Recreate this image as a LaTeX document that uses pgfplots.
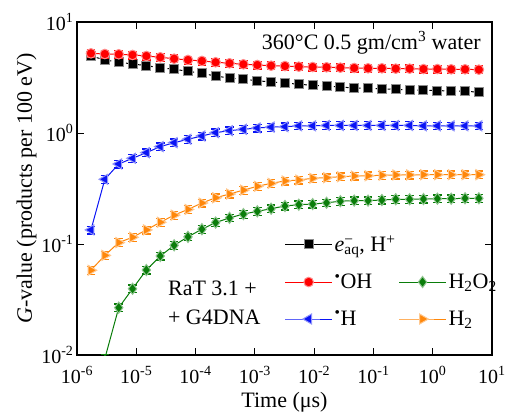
\documentclass[border=0pt]{standalone}
\usepackage{fontspec}
\setmainfont{Liberation Serif}
\usepackage{pgfplots}
\usepackage{pgfplotstable}
\pgfplotsset{compat=1.18}

\definecolor{cOH}{RGB}{255,0,0}
\definecolor{cH}{RGB}{10,20,245}
\definecolor{cHtwo}{RGB}{255,135,10}
\definecolor{cHHOO}{RGB}{10,125,10}

% G-values (molecules / 100 eV) versus time (microseconds)
\pgfplotstableread{
t        eaq   OH    H      Htwo   HHOO    err
1.72e-6  4.94  5.22  0.134  0.058  nan     0.08
2.95e-6  4.55  5.15  0.383  0.079  0.0093  0.08
5.06e-6  4.34  5.12  0.526  0.103  0.0267  0.08
8.65e-6  4.19  5.05  0.592  0.115  0.0395  0.08
1.48e-5  4.04  4.94  0.665  0.134  0.0583  0.08
2.54e-5  3.87  4.81  0.754  0.157  0.078   0.08
4.35e-5  3.75  4.67  0.818  0.182  0.0973  0.08
7.45e-5  3.60  4.55  0.878  0.205  0.116   0.08
1.28e-4  3.45  4.46  0.940  0.234  0.136   0.08
2.18e-4  3.26  4.34  1.007  0.261  0.156   0.08
3.74e-4  3.13  4.25  1.05   0.282  0.172   0.08
6.41e-4  3.05  4.16  1.08   0.306  0.186   0.08
1.10e-3  2.96  4.10  1.11   0.331  0.197   0.08
1.88e-3  2.88  4.04  1.13   0.352  0.208   0.08
3.22e-3  2.82  4.01  1.14   0.370  0.220   0.08
5.51e-3  2.75  3.96  1.16   0.377  0.226   0.08
9.44e-3  2.69  3.93  1.16   0.391  0.229   0.08
1.62e-2  2.64  3.91  1.17   0.396  0.235   0.08
2.77e-2  2.60  3.88  1.17   0.404  0.243   0.08
4.74e-2  2.54  3.85  1.17   0.410  0.246   0.08
8.12e-2  2.53  3.83  1.17   0.412  0.246   0.08
0.139    2.49  3.83  1.17   0.416  0.249   0.08
0.238    2.48  3.80  1.17   0.419  0.253   0.08
0.408    2.44  3.80  1.17   0.419  0.253   0.08
0.699    2.43  3.77  1.16   0.421  0.254   0.08
1.20     2.41  3.77  1.16   0.421  0.256   0.08
2.05     2.39  3.75  1.16   0.421  0.256   0.08
3.51     2.38  3.75  1.16   0.421  0.258   0.08
6.01     2.33  3.72  1.16   0.421  0.258   0.08
}\gvalues

\pgfplotsset{
  gseries/.style={
    line width=1bp,
    mark size=4.8bp,
    error bars/y dir=both,
    error bars/y explicit relative,
    error bars/error bar style={line width=1bp},
    error bars/error mark options={rotate=90, mark size=4.3bp, line width=1.2bp},
    legend image code/.code={
      \draw[mark repeat=2, mark phase=2]
        plot coordinates {(0bp,0bp) (23.5bp,0bp) (47bp,0bp)};
    },
  },
}

\begin{document}
\begin{tikzpicture}
\begin{axis}[
  scale only axis,
  width=415bp, height=333bp,
  xmode=log, ymode=log,
  log basis x=10, log basis y=10,
  xmin=1e-6, xmax=10, ymin=1e-2, ymax=10,
  axis line style={line width=1.1bp},
  major tick length=7bp, minor tick length=4bp,
  every tick/.style={line width=0.9bp, black},
  tick align=inside,
  xtick={1e-6,1e-5,1e-4,1e-3,1e-2,1e-1,1,10},
  ytick={1e-2,1e-1,1,10},
  xticklabel={10\textsuperscript{\pgfmathparse{int(round(\tick))}\pgfmathresult}},
  yticklabel={10\textsuperscript{\pgfmathparse{int(round(\tick))}\pgfmathresult}},
  tick label style={font=\fontsize{20bp}{22bp}\selectfont},
  xticklabel style={yshift=-8bp},
  xlabel={Time (μs)},
  ylabel={\textit{G}-value (products per 100 eV)},
  label style={font=\fontsize{22bp}{25bp}\selectfont},
  xlabel style={yshift=-2bp},
  ylabel style={yshift=-2bp},
  clip marker paths=true,
  legend columns=2,
  legend cell align=left,
  legend style={
    draw=none, fill=none, inner sep=0pt,
    at={(0.5,0.366)}, anchor=north west,
    font=\fontsize{22bp}{25bp}\selectfont,
    /tikz/every even column/.append style={column sep=1bp},
    row sep=17bp,
  },
]
\addplot[gseries, black, dashed, mark=square*,
  mark options={solid, draw=black!45, fill=black, line width=1bp, mark size=4.5bp},
  error bars/error bar style={solid, black, line width=1bp},
  error bars/error mark options={solid, rotate=90, mark size=4.3bp, line width=1.2bp},
  legend image post style={solid}]
  table[x=t, y=eaq, y error=err] {\gvalues};
\addlegendentry{\textit{e}\rlap{\textsuperscript{−}}\textsubscript{aq}, H\textsuperscript{+}}
\addlegendimage{empty legend}
\addlegendentry{}
\addplot[gseries, cOH, mark=*,
  mark options={draw=cOH!45, fill=cOH, line width=1bp}]
  table[x=t, y=OH, y error=err] {\gvalues};
\addlegendentry{\textsuperscript{\textbullet}OH}
\addplot[gseries, cHHOO, mark=diamond*,
  mark options={draw=cHHOO!45, fill=cHHOO, line width=1bp, mark size=5.6bp}]
  table[x=t, y=HHOO, y error=err] {\gvalues};
\addlegendentry{H\textsubscript{2}O\textsubscript{2}}
\addplot[gseries, cH, mark=triangle*,
  mark options={rotate=90, draw=cH!45, fill=cH, line width=1bp, mark size=5.8bp}]
  table[x=t, y=H, y error=err] {\gvalues};
\addlegendentry{\textsuperscript{\textbullet}H}
\addplot[gseries, cHtwo, mark=triangle*,
  mark options={rotate=-90, draw=cHtwo!45, fill=cHtwo, line width=1bp, mark size=5.8bp}]
  table[x=t, y=Htwo, y error=err] {\gvalues};
\addlegendentry{H\textsubscript{2}}

\node[anchor=east, font=\fontsize{22bp}{25bp}\selectfont, inner sep=0pt]
  at (axis description cs:0.973,0.937) {360°C 0.5 gm/cm\textsuperscript{3} water};
\node[anchor=west, align=left, inner sep=0pt,
  font=\fontsize{22bp}{29bp}\selectfont]
  at (axis description cs:0.219,0.158) {RaT 3.1 +\\+ G4DNA};
\end{axis}
% fixed page frame around the axis box
\pgfresetboundingbox
\path[use as bounding box] (-77bp,-60bp) rectangle (429bp,355bp);
\end{tikzpicture}
\end{document}
